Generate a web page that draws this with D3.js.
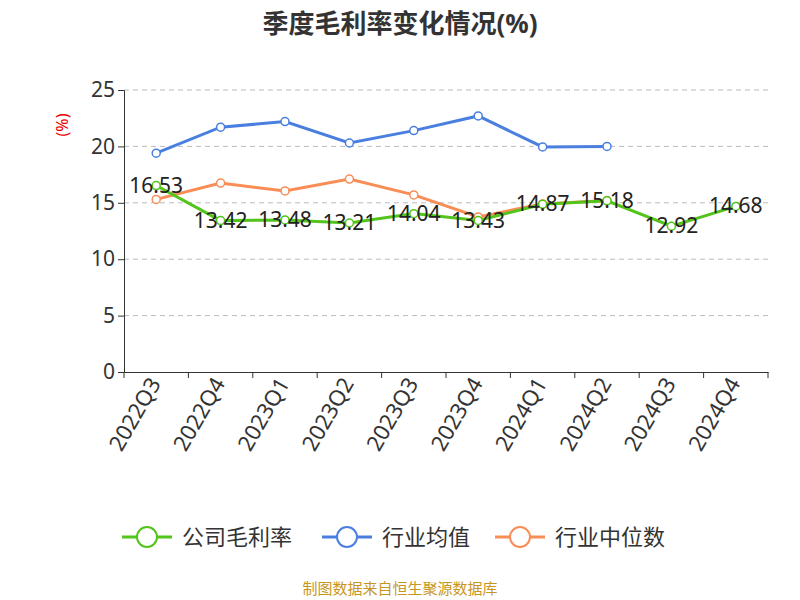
<!DOCTYPE html><html><head><meta charset="utf-8"><script src="https://cdn.jsdelivr.net/npm/d3@7"></script>
<style>body{margin:0;background:#fff}text{font-family:"Noto Sans","Noto Sans CJK SC",sans-serif}</style></head><body>
<svg id="c" width="800" height="600"></svg>
<script>
const categories=["2022Q3","2022Q4","2023Q1","2023Q2","2023Q3","2023Q4","2024Q1","2024Q2","2024Q3","2024Q4"];
const gross=[16.53,13.42,13.48,13.21,14.04,13.43,14.87,15.18,12.92,14.68];
const industryAvg=[19.4,21.7,22.2,20.3,21.4,22.7,19.95,20.0,null,null];
const industryMed=[15.3,16.75,16.05,17.1,15.7,13.75,14.9,15.2,null,null];
const yTicks=[0,5,10,15,20,25];
const svg=d3.select("#c");
const x=d3.scaleBand().domain(categories).range([124,768]);
const y=d3.scaleLinear().domain([0,25]).range([372,90]);
svg.append("text").attr("x",400).attr("y",33).attr("text-anchor","middle").attr("font-size",26).attr("font-weight","bold").attr("fill","#333").text("季度毛利率变化情况(%)");
svg.selectAll(".g").data(yTicks.filter(d=>d>0)).enter().append("line").attr("x1",124).attr("x2",768).attr("y1",d=>y(d)).attr("y2",d=>y(d)).attr("stroke","#bbb").attr("stroke-dasharray","5,4");
const ya=svg.append("g").attr("transform","translate(124,0)").call(d3.axisLeft(y).tickValues(yTicks).tickSize(6));
ya.selectAll("text").attr("font-size",21).attr("fill","#333");
ya.selectAll("line,path").attr("stroke","#333");
const xa=svg.append("g").attr("transform","translate(0,372)").call(d3.axisBottom(x).tickSize(0));
xa.selectAll("path").attr("stroke","#333");
xa.selectAll(".tick text").attr("font-size",22).attr("fill","#333").attr("text-anchor","end").attr("transform","translate(-4,6) rotate(-60)").attr("dy","0.35em").attr("dx","0");
svg.selectAll(".xt").data(d3.range(categories.length+1)).enter().append("line").attr("x1",i=>124+i*x.step()).attr("x2",i=>124+i*x.step()).attr("y1",372).attr("y2",378).attr("stroke","#333");
svg.append("text").attr("transform","translate(68,125) rotate(-90)").attr("text-anchor","middle").attr("font-size",16).attr("fill","#e00").text("(%)");
const cx=c=>x(c)+x.bandwidth()/2;
function series(vals,color){
 const pts=categories.map((c,i)=>[c,vals[i]]).filter(d=>d[1]!=null);
 svg.append("path").datum(pts).attr("fill","none").attr("stroke",color).attr("stroke-width",3).attr("d",d3.line().x(d=>cx(d[0])).y(d=>y(d[1])));
 svg.selectAll(null).data(pts).enter().append("circle").attr("cx",d=>cx(d[0])).attr("cy",d=>y(d[1])).attr("r",4).attr("fill","#fff").attr("stroke",color).attr("stroke-width",1.5);
}
series(industryAvg,"#4a7fe0");
series(industryMed,"#f98d56");
series(gross,"#52c41a");
svg.selectAll(null).data(gross).enter().append("text").attr("x",(d,i)=>cx(categories[i])).attr("y",d=>y(d)+7).attr("text-anchor","middle").attr("font-size",21).attr("fill","#222").text(d=>d.toFixed(2));
const leg=[["公司毛利率","#52c41a",122],["行业均值","#4a7fe0",322],["行业中位数","#f98d56",495]];
leg.forEach(([t,c,lx])=>{const g=svg.append("g");
 g.append("line").attr("x1",lx).attr("x2",lx+50).attr("y1",537).attr("y2",537).attr("stroke",c).attr("stroke-width",3);
 g.append("circle").attr("cx",lx+25).attr("cy",537).attr("r",10).attr("fill","#fff").attr("stroke",c).attr("stroke-width",2);
 g.append("text").attr("x",lx+60).attr("y",545).attr("font-size",22).attr("fill","#333").text(t);});
svg.append("text").attr("x",400).attr("y",594).attr("text-anchor","middle").attr("font-size",15).attr("fill","#c8961e").text("制图数据来自恒生聚源数据库");
</script></body></html>
